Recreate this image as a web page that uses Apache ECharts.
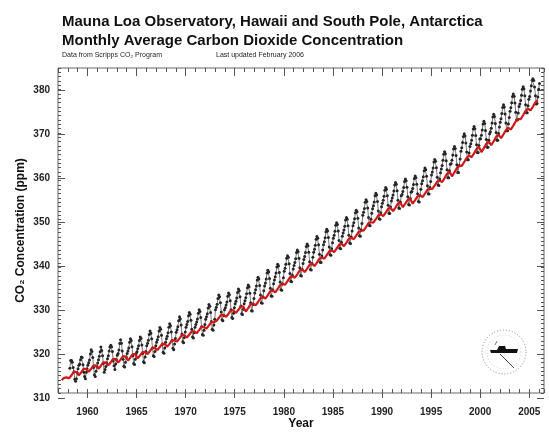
<!DOCTYPE html>
<html>
<head>
<meta charset="utf-8">
<script src="https://cdn.jsdelivr.net/npm/echarts@6/dist/echarts.min.js"></script>
<style>html,body{margin:0;padding:0;background:#fff}#c{width:549px;height:435px}</style>
</head>
<body>
<div id="c"></div>
<script>
// ---- Data ----
// Mauna Loa monthly CO2 (ppm), starting March 1958
const mloStartYear = 1958, mloStartMonth = 3;
const mloValues = [
315.7,317.5,317.5,317.1,315.9,314.9,313.2,312.7,313.3,314.7,
315.6,316.4,316.7,317.7,318.3,318.2,316.5,314.8,313.8,313.3,314.8,315.6,
316.4,317.0,317.6,319.0,320.0,319.6,318.2,315.9,314.2,313.8,315.0,316.2,
316.9,317.7,318.5,319.5,320.6,319.8,318.6,316.8,314.8,315.4,316.1,317.0,
317.9,318.6,319.7,320.6,321.0,320.6,319.6,317.4,316.3,315.4,316.7,317.7,
318.7,319.1,319.9,321.4,322.3,321.5,319.7,317.8,316.2,316.0,317.1,318.3,
319.1,319.7,320.4,321.7,322.5,322.1,320.7,318.6,316.8,316.6,317.8,319.1,
319.5,320.2,320.9,322.1,322.9,322.6,321.1,319.1,317.2,317.0,318.3,319.6,
320.9,321.5,322.2,323.5,324.3,323.8,322.5,320.4,318.6,318.4,319.6,320.9,
321.7,322.3,323.0,324.3,325.1,324.7,323.3,321.2,319.4,319.2,320.4,321.7,
322.5,323.1,323.9,325.2,326.0,325.5,324.1,322.1,320.3,320.0,321.3,322.6,
324.0,324.6,325.3,326.7,327.6,327.1,325.7,323.6,321.8,321.6,322.8,324.1,
325.2,325.8,326.5,327.8,328.6,328.2,326.8,324.7,322.9,322.7,323.9,325.2,
325.8,326.4,327.1,328.4,329.2,328.8,327.4,325.3,323.5,323.3,324.5,325.8,
327.0,327.6,328.3,329.6,330.4,330.0,328.6,326.5,324.7,324.5,325.7,327.0,
329.2,329.8,330.5,331.8,332.6,332.2,330.8,328.7,326.9,326.7,327.9,329.2,
329.7,330.3,331.0,332.3,333.1,332.7,331.3,329.2,327.4,327.2,328.4,329.7,
330.6,331.2,331.9,333.2,334.0,333.6,332.2,330.1,328.3,328.1,329.3,330.6,
331.3,332.0,332.9,334.3,334.9,334.5,333.0,330.8,329.0,328.9,330.4,331.8,
333.1,333.8,334.7,336.1,336.7,336.3,334.8,332.6,330.8,330.7,332.2,333.6,
334.7,335.4,336.3,337.7,338.3,337.9,336.4,334.2,332.4,332.3,333.8,335.2,
336.1,336.8,337.7,339.1,339.7,339.3,337.8,335.6,333.8,333.7,335.2,336.6,
338.1,338.8,339.7,341.1,341.7,341.3,339.8,337.6,335.8,335.7,337.2,338.6,
339.4,340.1,341.0,342.4,343.0,342.6,341.1,338.9,337.1,337.0,338.5,339.9,
340.8,341.5,342.4,343.8,344.4,344.0,342.5,340.3,338.5,338.4,339.9,341.3,
342.5,343.2,344.1,345.5,346.1,345.7,344.2,342.0,340.2,340.1,341.6,343.0,
344.2,344.9,345.8,347.2,347.8,347.4,345.9,343.7,341.9,341.8,343.3,344.7,
345.7,346.4,347.3,348.7,349.3,348.9,347.4,345.2,343.4,343.3,344.8,346.2,
346.9,347.6,348.5,349.9,350.5,350.1,348.6,346.4,344.6,344.5,346.0,347.4,
348.6,349.3,350.2,351.6,352.2,351.8,350.3,348.1,346.3,346.2,347.7,349.1,
351.0,351.7,352.6,354.0,354.6,354.2,352.7,350.5,348.7,348.6,350.1,351.5,
352.5,353.2,354.1,355.5,356.1,355.7,354.2,352.0,350.2,350.1,351.6,353.0,
353.8,354.5,355.4,356.8,357.4,357.0,355.5,353.3,351.5,351.4,352.9,354.3,
355.0,355.7,356.6,358.0,358.6,358.2,356.7,354.5,352.7,352.6,354.1,355.5,
355.8,356.5,357.4,358.8,359.4,359.0,357.5,355.3,353.5,353.4,354.9,356.3,
356.5,357.2,358.1,359.5,360.1,359.7,358.2,356.0,354.2,354.1,355.6,357.0,
358.3,359.0,359.9,361.3,361.9,361.5,360.0,357.8,356.0,355.9,357.4,358.8,
360.3,361.0,361.9,363.3,363.9,363.5,362.0,359.8,358.0,357.9,359.4,360.8,
361.7,362.5,363.7,365.1,365.7,365.2,363.6,361.5,359.7,359.7,361.3,362.8,
362.9,363.7,364.9,366.3,366.9,366.4,364.8,362.7,360.9,360.9,362.5,364.0,
365.8,366.6,367.8,369.2,369.8,369.3,367.7,365.6,363.8,363.8,365.4,366.9,
367.5,368.3,369.5,370.9,371.5,371.0,369.4,367.3,365.5,365.5,367.1,368.6,
368.7,369.5,370.7,372.1,372.7,372.2,370.6,368.5,366.7,366.7,368.3,369.8,
370.3,371.1,372.3,373.7,374.3,373.8,372.2,370.1,368.3,368.3,369.9,371.4,
372.5,373.3,374.5,375.9,376.5,376.0,374.4,372.3,370.5,370.5,372.1,373.6,
375.0,375.8,377.0,378.4,379.0,378.5,376.9,374.8,373.0,373.0,374.6,376.1,
376.7,377.5,378.7,380.1,380.7,380.2,378.6,376.5,374.7,374.7,376.3,377.8,
378.4,379.7,380.9,382.2,382.5,382.1,380.6,378.6,376.7,376.8,378.3,380.1,
381.4
];
// South Pole CO2 (ppm), four samples a year (Feb, May, Aug, Nov), starting 1957
const spoStartYear = 1957;
const spoMonths = [2, 5, 8, 11];
const spoValues = [
null,313.0,313.5,313.6,
313.4,314.1,314.9,314.8,
314.1,314.8,315.6,315.5,
314.9,315.6,316.4,316.3,
315.6,316.3,317.1,317.0,
316.4,317.1,317.9,317.8,
317.0,317.7,318.5,318.4,
317.5,318.2,319.0,318.9,
318.0,318.7,319.5,319.4,
319.0,319.7,320.5,320.4,
319.9,320.6,321.4,321.3,
320.7,321.4,322.2,322.1,
321.9,322.6,323.4,323.3,
322.8,323.5,324.3,324.2,
323.8,324.5,325.3,325.2,
324.9,325.6,326.4,326.3,
326.6,327.3,328.1,328.0,
327.6,328.3,329.1,329.0,
328.5,329.2,330.0,329.9,
328.8,329.6,330.5,330.7,
330.2,331.0,331.9,332.1,
331.8,332.6,333.5,333.7,
333.2,334.0,334.9,335.1,
335.0,335.8,336.7,336.9,
336.6,337.4,338.3,338.5,
337.9,338.7,339.6,339.8,
339.3,340.1,341.0,341.2,
341.0,341.8,342.7,342.9,
342.5,343.3,344.2,344.4,
343.9,344.7,345.6,345.8,
345.5,346.3,347.2,347.4,
347.5,348.3,349.2,349.4,
349.3,350.1,351.0,351.2,
350.8,351.6,352.5,352.7,
352.0,352.8,353.7,353.9,
352.9,353.7,354.6,354.8,
353.7,354.5,355.4,355.6,
355.2,356.0,356.9,357.1,
357.1,357.9,358.8,359.0,
358.7,359.6,360.6,361.1,
360.0,360.9,361.9,362.4,
362.4,363.3,364.3,364.8,
364.4,365.3,366.3,366.8,
365.6,366.5,367.5,368.0,
367.2,368.1,369.1,369.6,
368.8,369.7,370.7,371.2,
370.8,371.7,372.7,373.2,
373.2,374.1,375.1,375.6,
375.2,376.1,377.1,377.6
];
const xMin = 1957, xMax = 2006.5;
const yMin = 310, yMax = 385;
const xMajorFirst = 1960, xMajorLast = 2005;
const yMajorLast = 380;

// ---- Build ----
const W = 549, H = 435;
const G = {left: 58, right: 5, top: 68, bottom: 37};
const ppx = (W - G.left - G.right) / (xMax - xMin);
const ppy = (H - G.top - G.bottom) / (yMax - yMin);

const mloData = mloValues.map((v, i) => [mloStartYear + (mloStartMonth - 1 + i + 0.5) / 12, v]);
const spoData = [];
spoValues.forEach((v, i) => {
  if (v == null) return;
  spoData.push([spoStartYear + Math.floor(i / 4) + (spoMonths[i % 4] - 0.5) / 12, v]);
});

const FONT = '"Liberation Sans", Arial, sans-serif';
const tickColor = '#555';
const labelStyle = {color: '#222', fontSize: 10, fontWeight: 'bold', fontFamily: FONT, formatter: v => String(v)};

const chart = echarts.init(document.getElementById('c'), null, {renderer: 'canvas'});
chart.setOption({
  animation: false,
  backgroundColor: '#fff',
  title: {
    text: 'Mauna Loa Observatory, Hawaii and South Pole, Antarctica\nMonthly Average Carbon Dioxide Concentration',
    left: 62, top: 12, padding: 0,
    textStyle: {fontSize: 15, fontWeight: 'bold', color: '#111', fontFamily: FONT, lineHeight: 19}
  },
  grid: [
    {left: G.left, right: G.right, top: G.top, bottom: G.bottom, show: true, borderColor: '#666', borderWidth: 1, backgroundColor: 'transparent'},
    {left: G.left + (xMajorFirst - xMin) * ppx, right: W - (G.left + (xMajorLast - xMin) * ppx), top: G.top, bottom: G.bottom},
    {left: G.left, right: G.right, top: G.top + (yMax - yMajorLast) * ppy, bottom: G.bottom}
  ],
  xAxis: [
    {gridIndex: 0, type: 'value', position: 'bottom', min: xMin, max: xMax, interval: 1,
     axisLine: {show: false}, axisTick: {inside: true, length: 4, lineStyle: {color: tickColor}},
     axisLabel: {show: false}, splitLine: {show: false},
     name: 'Year', nameLocation: 'middle', nameGap: 25,
     nameTextStyle: {fontSize: 12, fontWeight: 'bold', color: '#111', fontFamily: FONT}},
    {gridIndex: 0, type: 'value', position: 'top', min: xMin, max: xMax, interval: 1,
     axisLine: {show: false}, axisTick: {inside: true, length: 4, lineStyle: {color: tickColor}},
     axisLabel: {show: false}, splitLine: {show: false}},
    {gridIndex: 1, type: 'value', position: 'bottom', min: xMajorFirst, max: xMajorLast, interval: 5,
     axisLine: {show: false}, axisTick: {inside: true, length: 8, lineStyle: {color: tickColor}},
     axisLabel: Object.assign({margin: 9}, labelStyle), splitLine: {show: false}},
    {gridIndex: 1, type: 'value', position: 'top', min: xMajorFirst, max: xMajorLast, interval: 5,
     axisLine: {show: false}, axisTick: {inside: true, length: 8, lineStyle: {color: tickColor}},
     axisLabel: {show: false}, splitLine: {show: false}},
    {gridIndex: 2, type: 'value', show: false, min: xMin, max: xMax}
  ],
  yAxis: [
    {gridIndex: 0, type: 'value', position: 'left', min: yMin, max: yMax, interval: 1,
     axisLine: {show: false}, axisTick: {inside: true, length: 3, lineStyle: {color: tickColor}},
     axisLabel: {show: false}, splitLine: {show: false},
     name: 'CO\u2082 Concentration (ppm)', nameLocation: 'middle', nameGap: 31,
     nameTextStyle: {fontSize: 12, fontWeight: 'bold', color: '#111', fontFamily: FONT}},
    {gridIndex: 0, type: 'value', position: 'right', min: yMin, max: yMax, interval: 1,
     axisLine: {show: false}, axisTick: {inside: true, length: 3, lineStyle: {color: tickColor}},
     axisLabel: {show: false}, splitLine: {show: false}},
    {gridIndex: 2, type: 'value', position: 'left', min: yMin, max: yMajorLast, interval: 10,
     axisLine: {show: false}, axisTick: {inside: true, length: 7, lineStyle: {color: tickColor}},
     axisLabel: Object.assign({margin: 8}, labelStyle), splitLine: {show: false}},
    {gridIndex: 2, type: 'value', position: 'right', min: yMin, max: yMajorLast, interval: 10,
     axisLine: {show: false}, axisTick: {inside: true, length: 7, lineStyle: {color: tickColor}},
     axisLabel: {show: false}, splitLine: {show: false}},
    {gridIndex: 1, type: 'value', show: false, min: yMin, max: yMax}
  ],
  series: [
    {name: 'Mauna Loa', type: 'line', xAxisIndex: 0, yAxisIndex: 0, data: mloData,
     symbol: 'circle', symbolSize: 3, showSymbol: true,
     itemStyle: {color: '#262626'}, lineStyle: {color: '#555', width: 0.8}, z: 2},
    {name: 'South Pole', type: 'line', xAxisIndex: 0, yAxisIndex: 0, data: spoData,
     symbol: 'none', lineStyle: {color: '#d01818', width: 2.2}, z: 3}
  ],
  graphic: [
    {type: 'text', left: 62, top: 52, style: {text: 'Data from Scripps CO\u2082 Program', fontSize: 7, fill: '#222', fontFamily: FONT}},
    {type: 'text', left: 216, top: 52, style: {text: 'Last updated February 2006', fontSize: 7, fill: '#222', fontFamily: FONT}},
    {type: 'circle', shape: {cx: 504, cy: 352, r: 22}, style: {fill: 'none', stroke: '#888', lineWidth: 1, lineDash: [1, 2]}},
    {type: 'circle', shape: {cx: 504, cy: 352, r: 17}, style: {fill: 'none', stroke: '#bbb', lineWidth: 0.6, lineDash: [1, 2]}},
    {type: 'polygon', shape: {points: [[490, 350], [497, 350], [499, 346], [505, 346], [506, 349], [518, 349], [517, 353], [491, 353]]}, style: {fill: '#111'}},
    {type: 'line', shape: {x1: 500, y1: 354, x2: 514, y2: 368}, style: {stroke: '#444', lineWidth: 1}},
    {type: 'line', shape: {x1: 495, y1: 345, x2: 497, y2: 341}, style: {stroke: '#555', lineWidth: 0.8}}
  ]
});
</script>
</body>
</html>
